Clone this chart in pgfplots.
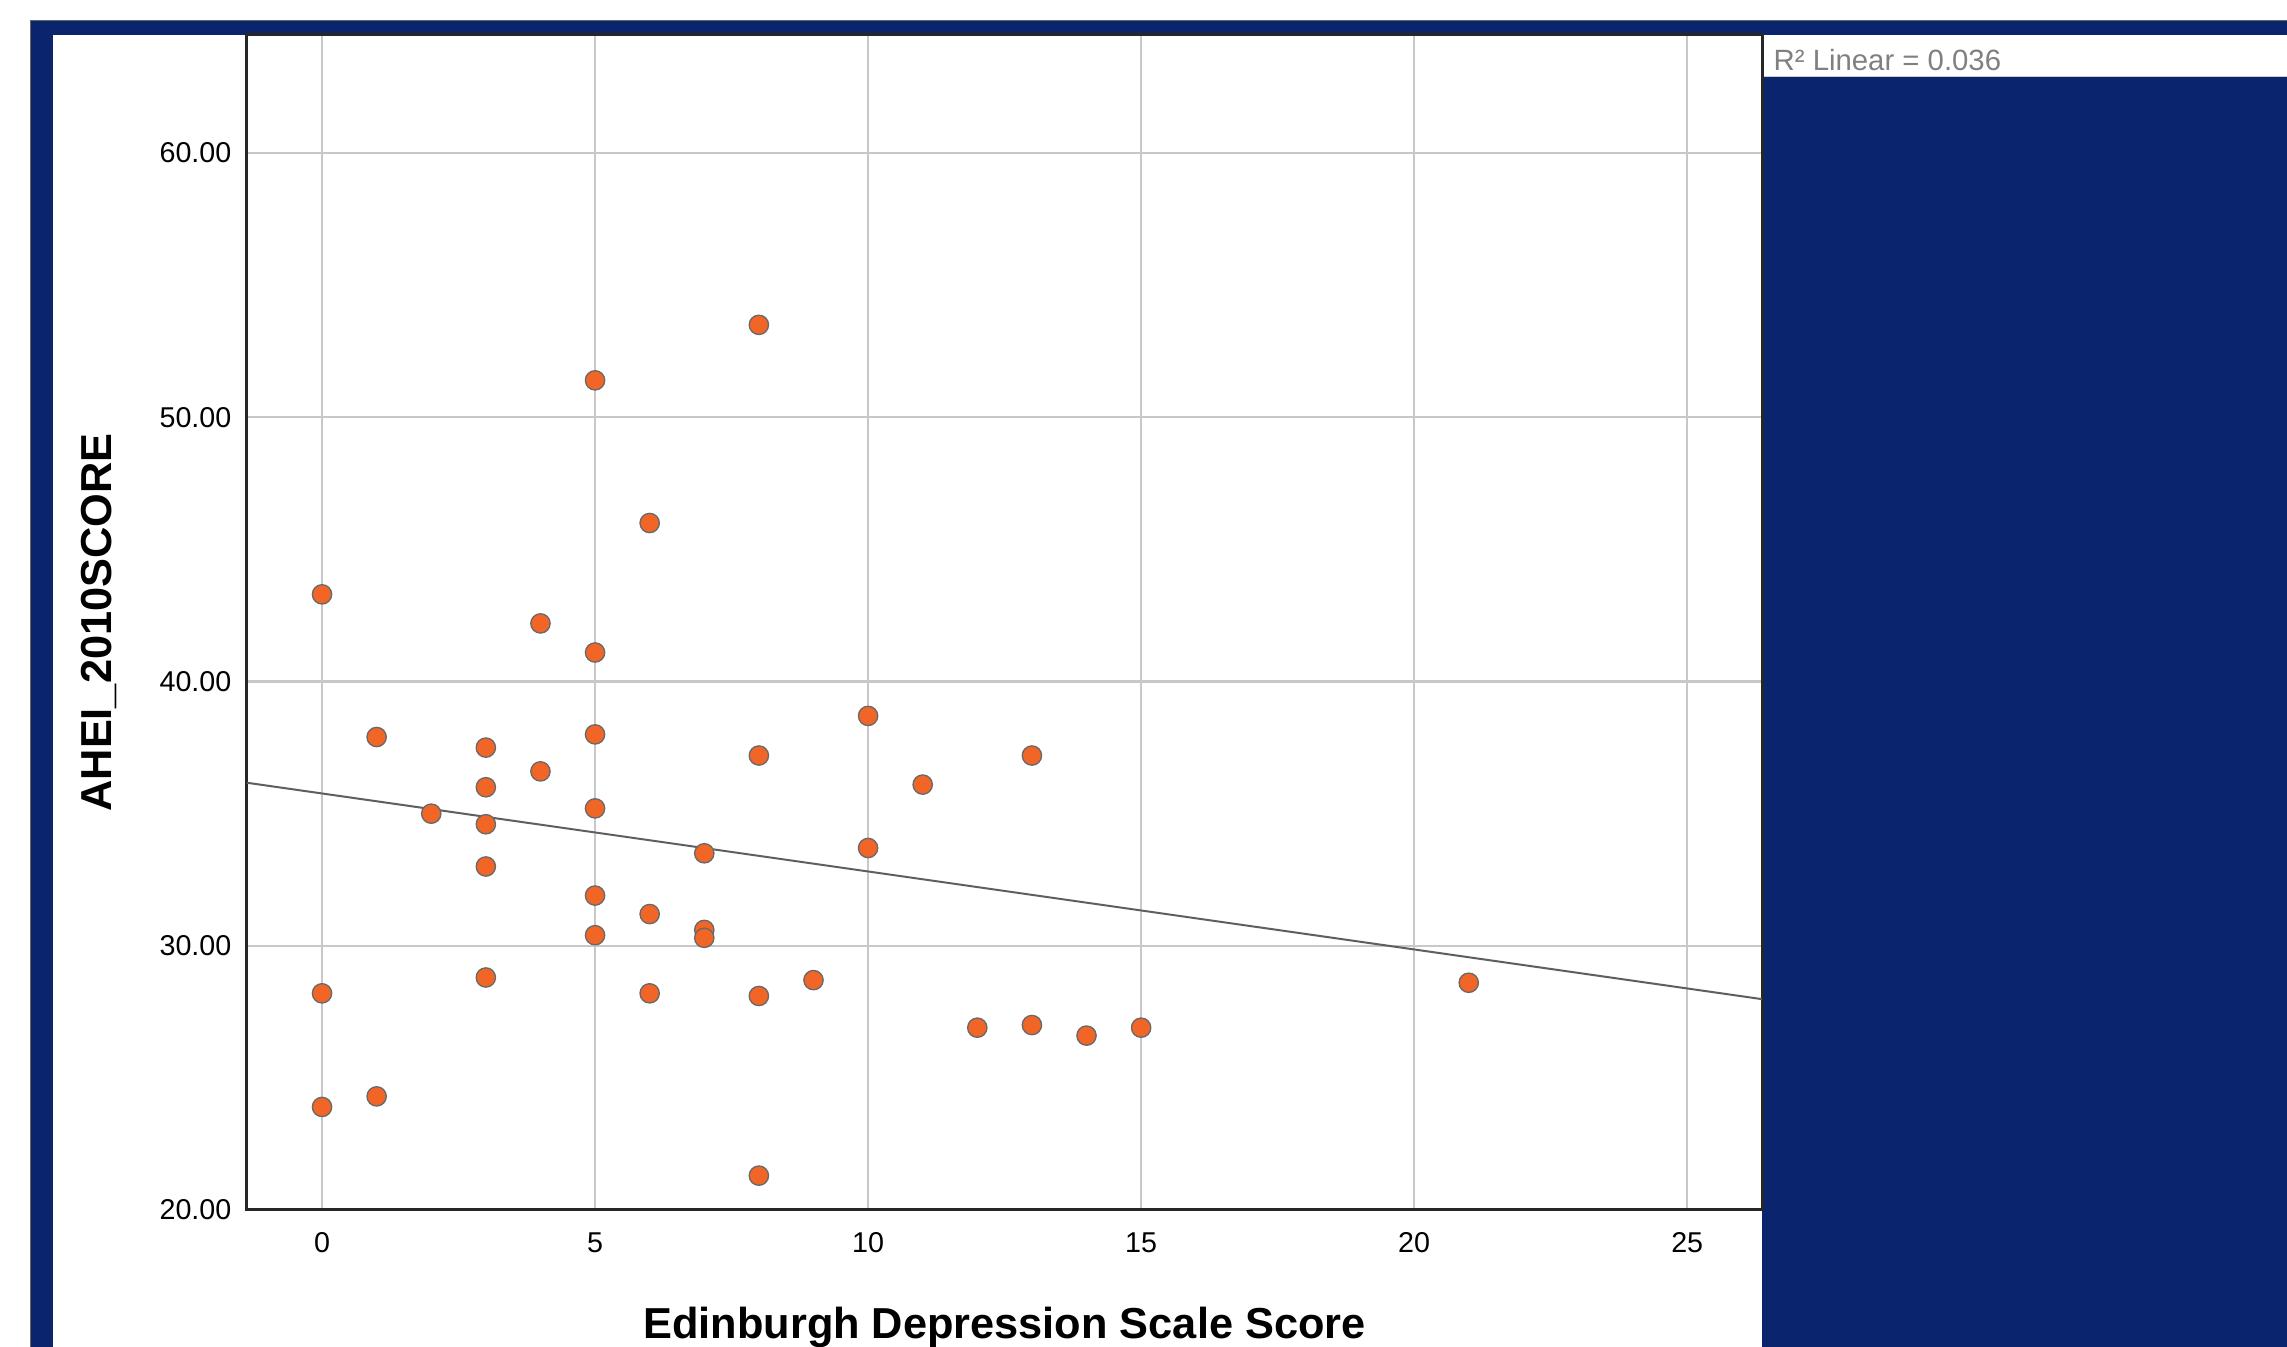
\documentclass[border=0pt]{standalone}
\usepackage{fontspec}
\setmainfont{Liberation Sans}
\usepackage{pgfplots}
\usepackage{pgfplotstable}
\pgfplotsset{compat=1.18}
\definecolor{spssnavy}{RGB}{10,37,110}
\definecolor{dotfill}{RGB}{241,102,39}
\definecolor{dotedge}{RGB}{105,105,105}
\definecolor{gridgray}{RGB}{200,200,200}
\definecolor{fitgray}{RGB}{95,95,95}
\definecolor{legendgray}{RGB}{128,128,128}

\pgfplotstableread{
x y
0 43.3
0 28.2
0 23.9
1 37.9
1 24.3
2 35.0
3 37.5
3 36.0
3 34.6
3 33.0
3 28.8
4 42.2
4 36.6
5 51.4
5 41.1
5 38.0
5 35.2
5 31.9
5 30.4
6 46.0
6 31.2
6 28.2
7 33.5
7 30.6
7 30.3
8 53.5
8 37.2
8 28.1
8 21.3
9 28.7
10 38.7
10 33.7
11 36.1
12 26.9
13 37.2
13 27.0
14 26.6
15 26.9
21 28.6
}\scatterdata

\begin{document}
\begin{tikzpicture}
\path[use as bounding box] (0pt,0pt) rectangle (686.1pt,404.1pt);
\fill[white] (0pt,0pt) rectangle (686.1pt,404.1pt);
\fill[spssnavy] (9pt,0pt) rectangle (686.1pt,397.8pt);
\draw[black!60, line width=0.3pt] (9pt,0pt) -- (9pt,397.8pt) -- (686.1pt,397.8pt);
\fill[white] (15.9pt,0pt) rectangle (528.6pt,393.6pt);
\fill[white] (528.6pt,381pt) rectangle (686.1pt,393.6pt);
\draw[black!20, line width=0.3pt] (528.6pt,381pt) -- (686.1pt,381pt);
\node[anchor=west, inner sep=0pt, text=legendgray, font=\fontsize{8.8}{10}\selectfont] at (531.9pt,386.2pt) {R² Linear = 0.036};
\begin{axis}[
  at={(74.1pt,41.1pt)}, anchor=south west,
  scale only axis, width=454.5pt, height=352.5pt,
  xmin=-1.374, xmax=26.37, ymin=20, ymax=64.47,
  xtick={0,5,10,15,20,25}, ytick={20,30,40,50,60},
  grid=major, major grid style={gridgray, line width=0.7pt},
  major tick length=0pt,
  axis line style={black!85, line width=0.9pt},
  /pgf/number format/assume math mode=true,
  tick label style={font=\fontsize{8.6}{10}\selectfont},
  y tick label style={/pgf/number format/fixed, /pgf/number format/fixed zerofill, /pgf/number format/precision=2, inner sep=0pt, xshift=-4.5pt},
  x tick label style={inner sep=0pt, yshift=-6.6pt},
  xlabel={Edinburgh Depression Scale Score},
  xlabel style={at={(axis description cs:0.5,-0.0996)}, anchor=center, font=\bfseries\fontsize{13}{15}\selectfont},
  ylabel={AHEI\_2010SCORE},
  ylabel style={at={(axis description cs:-0.0977,0.5)}, anchor=center, font=\bfseries\fontsize{13}{15}\selectfont},
]
\addplot[only marks, mark=*, mark size=2.9pt, mark options={fill=dotfill, draw=dotedge, line width=0.4pt}] table[x=x,y=y] {\scatterdata};
\addplot[fitgray, line width=0.6pt] coordinates {(-1.374,36.17) (26.37,27.98)};
\end{axis}
\end{tikzpicture}
\end{document}
